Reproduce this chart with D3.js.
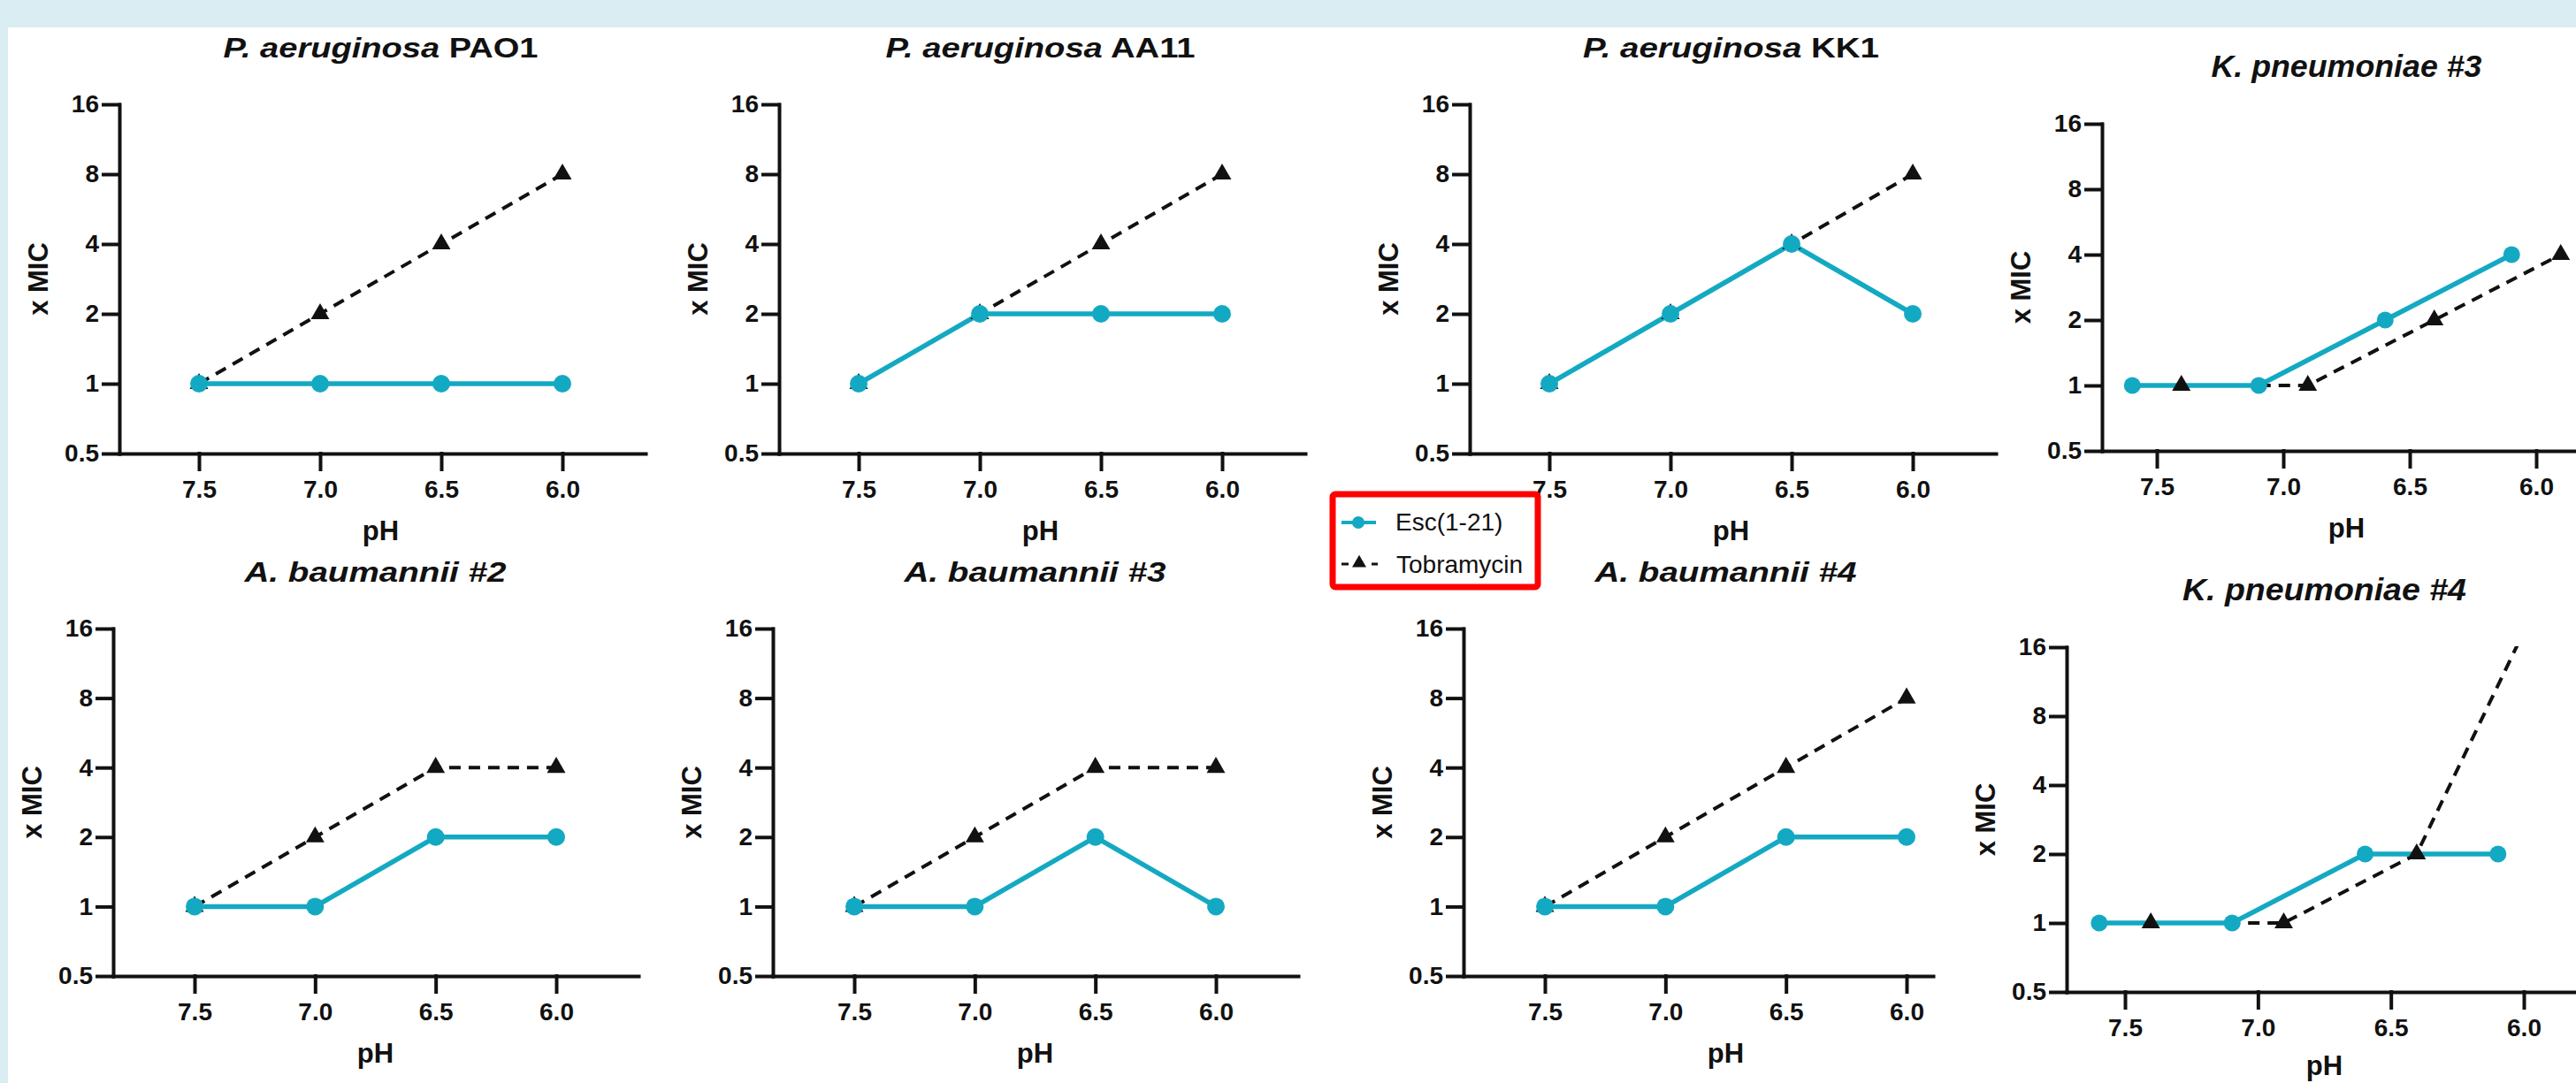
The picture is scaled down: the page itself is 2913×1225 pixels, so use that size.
<!DOCTYPE html>
<html>
<head>
<meta charset="utf-8">
<script src="https://cdn.jsdelivr.net/npm/d3@7"></script>
<style>
  html, body { margin: 0; padding: 0; background: #fff; }
  svg { display: block; }
  text { font-family: "Liberation Sans", Arial, sans-serif; fill: #111; }
</style>
</head>
<body>
<script>
// pH levels and y ticks
var phLevels = [7.5, 7.0, 6.5, 6.0];
var micTicks = [0.5, 1, 2, 4, 8, 16];

// panel titles (italic species part, upright strain part)
var titleItalic = ['P. aeruginosa', 'P. aeruginosa', 'P. aeruginosa', 'K. pneumoniae #3',
  'A. baumannii #2', 'A. baumannii #3', 'A. baumannii #4', 'K. pneumoniae #4'];
var titleUpright = ['PAO1', 'AA11', 'KK1', '', '', '', '', ''];

// x MIC values, one row per panel, in pH order 7.5 -> 6.0
var escMIC = [
  [1, 1, 1, 1],
  [1, 2, 2, 2],
  [1, 2, 4, 2],
  [1, 1, 2, 4],
  [1, 1, 2, 2],
  [1, 1, 2, 1],
  [1, 1, 2, 2],
  [1, 1, 2, 2]
];
var tobMIC = [
  [1, 2, 4, 8],
  [1, 2, 4, 8],
  [1, 2, 4, 8],
  [1, 1, 2, 4],
  [1, 2, 4, 4],
  [1, 2, 4, 4],
  [1, 2, 4, 8],
  [1, 1, 2, 32]
];

// where each panel sits on the page
var layout = [
  { ax: 135, t75: 225, t60: 636, xEnd: 730, yTop: 118, yBot: 513, titleW: 356, titleSize: 31, r: 10, dodge: 0 },
  { ax: 881, t75: 971, t60: 1382, xEnd: 1476, yTop: 118, yBot: 513, titleW: 350, titleSize: 31, r: 10, dodge: 0 },
  { ax: 1662, t75: 1752, t60: 2163, xEnd: 2257, yTop: 118, yBot: 513, titleW: 335, titleSize: 31, r: 10, dodge: 0 },
  { ax: 2377, t75: 2439, t60: 2868, xEnd: 2913, yTop: 140, yBot: 510, titleW: 306, titleSize: 35, r: 9.5, dodge: 0.097 },
  { ax: 128, t75: 220, t60: 629, xEnd: 722, yTop: 711, yBot: 1104, titleW: 296, titleSize: 31, r: 10, dodge: 0 },
  { ax: 874, t75: 966, t60: 1375, xEnd: 1468, yTop: 711, yBot: 1104, titleW: 296, titleSize: 31, r: 10, dodge: 0 },
  { ax: 1655, t75: 1747, t60: 2156, xEnd: 2186, yTop: 711, yBot: 1104, titleW: 296, titleSize: 31, r: 10, dodge: 0 },
  { ax: 2337, t75: 2403, t60: 2854, xEnd: 2913, yTop: 732, yBot: 1122, titleW: 321, titleSize: 35, r: 9.5, dodge: 0.097 }
];

var width = 2913, height = 1225;
var cyan = '#14a9c2', ink = '#111';

var svg = d3.select('body').append('svg')
  .attr('width', width)
  .attr('height', height);

svg.append('rect').attr('width', width).attr('height', height).attr('fill', '#fff');
svg.append('rect').attr('width', width).attr('height', 31).attr('fill', '#d9edf3');
svg.append('rect').attr('width', 9).attr('height', height).attr('fill', '#d9edf3');

layout.forEach(function(L, i) {
  var x = d3.scaleLinear().domain([7.5, 6.0]).range([L.t75, L.t60]);
  var xAxisScale = x.copy().domain([x.invert(L.ax), x.invert(L.xEnd)]).range([L.ax, L.xEnd]);
  var y = d3.scaleLog().base(2).domain([0.5, 16]).range([L.yBot, L.yTop]);
  var mid = (L.t75 + L.t60) / 2;

  var g = svg.append('g').attr('class', 'panel');

  // clip so the off-scale point is cut at 16
  var clipId = 'clip' + i;
  g.append('clipPath').attr('id', clipId)
    .append('rect')
    .attr('x', L.ax)
    .attr('y', L.yTop - 1)
    .attr('width', L.xEnd - L.ax + 30)
    .attr('height', L.yBot - L.yTop + 40);

  // axes
  var xg = g.append('g')
    .attr('transform', 'translate(0,' + L.yBot + ')')
    .call(d3.axisBottom(xAxisScale)
      .tickValues(phLevels)
      .tickFormat(d3.format('.1f'))
      .tickSize(18)
      .tickSizeOuter(0)
      .tickPadding(12));

  var yg = g.append('g')
    .attr('transform', 'translate(' + L.ax + ',0)')
    .call(d3.axisLeft(y)
      .tickValues(micTicks)
      .tickFormat(function(d) { return String(d); })
      .tickSize(18)
      .tickSizeOuter(0)
      .tickPadding(5));

  [xg, yg].forEach(function(a) {
    a.attr('font-size', 28)
      .attr('font-family', '"Liberation Sans", Arial, sans-serif')
      .attr('font-weight', 'bold')
      .attr('color', ink);
    a.selectAll('path, line').attr('stroke-width', 4).attr('stroke-linecap', 'square');
  });

  // data
  var esc = phLevels.map(function(p, k) { return { ph: p + L.dodge, v: escMIC[i][k] }; });
  var tob = phLevels.map(function(p, k) { return { ph: p - L.dodge, v: tobMIC[i][k] }; });

  var line = d3.line()
    .x(function(d) { return x(d.ph); })
    .y(function(d) { return y(d.v); });

  var plot = g.append('g').attr('clip-path', 'url(#' + clipId + ')');

  plot.append('path')
    .datum(tob)
    .attr('d', line)
    .attr('fill', 'none')
    .attr('stroke', ink)
    .attr('stroke-width', 4)
    .attr('stroke-dasharray', '13,9');

  plot.append('path')
    .datum(esc)
    .attr('d', line)
    .attr('fill', 'none')
    .attr('stroke', cyan)
    .attr('stroke-width', 5.5);

  plot.selectAll('path.tri')
    .data(tob)
    .enter()
    .append('path')
    .attr('class', 'tri')
    .attr('d', d3.symbol(d3.symbolTriangle, 190))
    .attr('transform', function(d) { return 'translate(' + x(d.ph) + ',' + y(d.v) + ')'; })
    .attr('fill', ink);

  plot.selectAll('circle.dot')
    .data(esc)
    .enter()
    .append('circle')
    .attr('class', 'dot')
    .attr('cx', function(d) { return x(d.ph); })
    .attr('cy', function(d) { return y(d.v); })
    .attr('r', L.r)
    .attr('fill', cyan);

  // title
  var title = g.append('text')
    .attr('x', mid)
    .attr('y', L.yTop - 53)
    .attr('text-anchor', 'middle')
    .attr('font-size', L.titleSize)
    .attr('font-weight', 'bold')
    .attr('textLength', L.titleW)
    .attr('lengthAdjust', 'spacingAndGlyphs');
  title.append('tspan').attr('font-style', 'italic').text(titleItalic[i]);
  if (titleUpright[i]) title.append('tspan').text(' ' + titleUpright[i]);

  // axis titles
  g.append('text')
    .attr('transform', 'translate(' + (L.ax - 92) + ',' + (L.yTop + L.yBot) / 2 + ') rotate(-90)')
    .attr('text-anchor', 'middle')
    .attr('dy', '0.35em')
    .attr('font-size', 31)
    .attr('font-weight', 'bold')
    .text('x MIC');

  // keep the bottom-right pH inside the page
  g.append('text')
    .attr('x', mid)
    .attr('y', Math.min(L.yBot + 98, height - 9))
    .attr('text-anchor', 'middle')
    .attr('font-size', 31)
    .attr('font-weight', 'bold')
    .text('pH');
});

// legend
var legend = svg.append('g').attr('class', 'legend');
legend.append('rect')
  .attr('x', 1507)
  .attr('y', 559)
  .attr('width', 232)
  .attr('height', 105)
  .attr('rx', 3)
  .attr('fill', '#fff')
  .attr('stroke', '#ff0000')
  .attr('stroke-width', 7);

legend.append('line')
  .attr('x1', 1517).attr('x2', 1556)
  .attr('y1', 591).attr('y2', 591)
  .attr('stroke', cyan)
  .attr('stroke-width', 4);
legend.append('circle')
  .attr('cx', 1536).attr('cy', 591).attr('r', 7)
  .attr('fill', cyan);
legend.append('text')
  .attr('x', 1578).attr('y', 600)
  .attr('font-size', 28)
  .attr('fill', '#222')
  .text('Esc(1-21)');

legend.append('line')
  .attr('x1', 1517).attr('x2', 1558)
  .attr('y1', 638).attr('y2', 638)
  .attr('stroke', ink)
  .attr('stroke-width', 3)
  .attr('stroke-dasharray', '8,9');
legend.append('path')
  .attr('d', d3.symbol(d3.symbolTriangle, 110))
  .attr('transform', 'translate(1537,637)')
  .attr('fill', ink);
legend.append('text')
  .attr('x', 1579).attr('y', 648)
  .attr('font-size', 28)
  .attr('fill', '#222')
  .text('Tobramycin');
</script>
</body>
</html>
